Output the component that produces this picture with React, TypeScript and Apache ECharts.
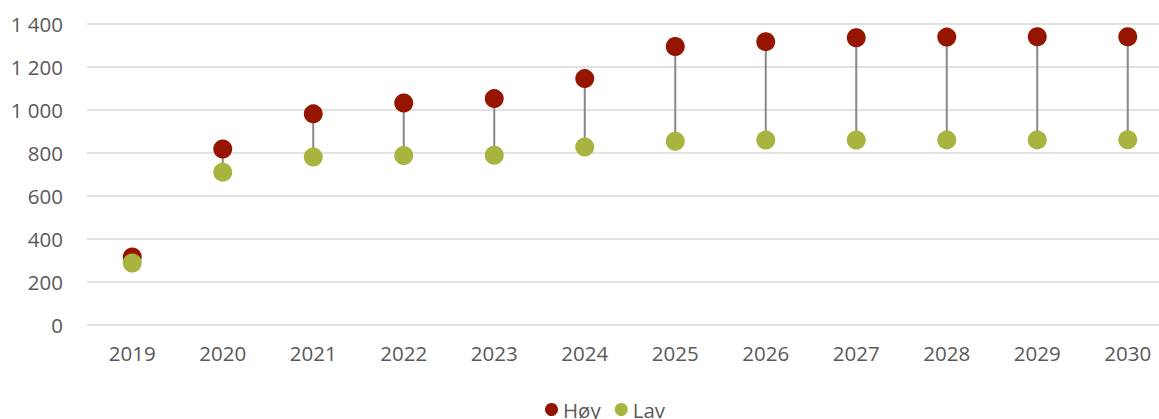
import React, { useEffect, useRef } from "react";
import * as echarts from "echarts";

const years = ["2019", "2020", "2021", "2022", "2023", "2024", "2025", "2026", "2027", "2028", "2029", "2030"];
const hoy = [316, 819, 982, 1033, 1053, 1146, 1295, 1318, 1336, 1339, 1341, 1341];
const lav = [288, 711, 781, 788, 790, 828, 855, 860, 860, 861, 861, 862];

const RED = "#951500";
const GREEN = "#A8B43F";
const FONT = "Open Sans";

export default function App() {
  const ref = useRef<HTMLDivElement>(null);
  useEffect(() => {
    const chart = echarts.init(ref.current!, null, { renderer: "svg" });
    chart.setOption({
      animation: false,
      grid: { left: 87, right: 0, top: 24, bottom: 94, containLabel: false },
      xAxis: {
        type: "category",
        data: years,
        axisLine: { show: false },
        axisTick: { show: false },
        axisLabel: { color: "#595959", fontSize: 20.5, fontFamily: FONT, margin: 17 },
      },
      yAxis: {
        type: "value",
        min: 0,
        max: 1400,
        interval: 200,
        axisLine: { show: false },
        axisTick: { show: false },
        splitLine: { lineStyle: { color: "#D9D9D9", width: 1.5 } },
        axisLabel: {
          color: "#595959",
          fontSize: 20.5,
          fontFamily: FONT,
          margin: 24,
          formatter: (v: number) => String(v).replace(/\B(?=(\d{3})+(?!\d))/g, "\u00A0"),
        },
      },
      legend: {
        data: [
          { name: "Høy", icon: "circle" },
          { name: "Lav", icon: "circle" },
        ],
        top: 394,
        left: 540,
        itemWidth: 13,
        itemHeight: 13,
        itemGap: 14,
        textStyle: { color: "#595959", fontSize: 20.5, fontFamily: FONT },
      },
      series: [
        {
          type: "custom",
          name: "connector",
          silent: true,
          z: 1,
          data: years.map((_, i) => [i, hoy[i], lav[i]]),
          renderItem: (params: any, api: any) => {
            const p1 = api.coord([api.value(0), api.value(1)]);
            const p2 = api.coord([api.value(0), api.value(2)]);
            return {
              type: "line",
              shape: { x1: p1[0], y1: p1[1], x2: p2[0], y2: p2[1] },
              style: { stroke: "#878787", lineWidth: 2 },
            };
          },
        },
        {
          type: "scatter",
          name: "Høy",
          data: hoy,
          symbol: "circle",
          symbolSize: 19,
          itemStyle: { color: RED, opacity: 1 },
          z: 2,
        },
        {
          type: "scatter",
          name: "Lav",
          data: lav,
          symbol: "circle",
          symbolSize: 19,
          itemStyle: { color: GREEN, opacity: 1 },
          z: 3,
        },
      ],
    });
    return () => chart.dispose();
  }, []);
  return (
    <div style={{ position: "absolute", left: 0, top: 0, width: 1159, height: 419, overflow: "hidden" }}>
      <div ref={ref} style={{ width: 1173, height: 419 }} />
    </div>
  );
}
